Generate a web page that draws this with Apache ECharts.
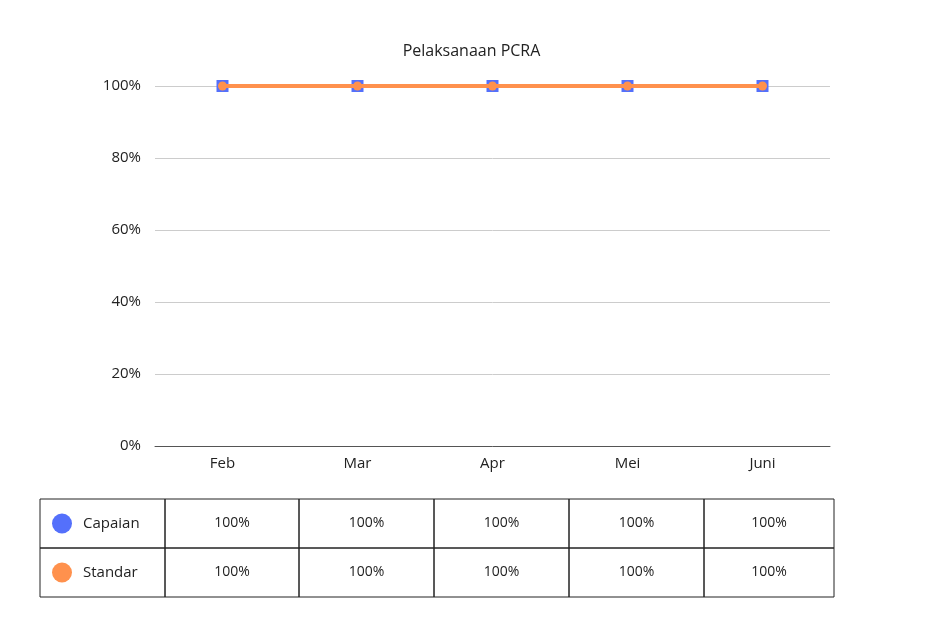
<!DOCTYPE html>
<html>
<head>
<meta charset="utf-8">
<script src="https://cdn.jsdelivr.net/npm/echarts@6/dist/echarts.min.js"></script>
<style>html,body{margin:0;background:#fff}#c{width:943px;height:626px}</style>
</head>
<body>
<div id="c"></div>
<script>
const bulan = ['Feb', 'Mar', 'Apr', 'Mei', 'Juni'];
const capaian = [100, 100, 100, 100, 100];
const standar = [100, 100, 100, 100, 100];
const namaSeri = ['Capaian', 'Standar'];
const warna = ['#5470fb', '#ff914d'];

const chart = echarts.init(document.getElementById('c'));
const font = '"Open Sans", sans-serif';

// tabel data di bawah grafik
const kolomX = [40, 165, 299, 434, 569, 704, 834];
const barisY = [499, 548, 597];
const tabel = [];
[capaian, standar].forEach((vals, r) => {
  const y0 = barisY[r], y1 = barisY[r + 1], cy = (y0 + y1) / 2;
  for (let c = 0; c < kolomX.length - 1; c++) {
    tabel.push({ type: 'rect', shape: { x: kolomX[c], y: y0, width: kolomX[c + 1] - kolomX[c], height: y1 - y0 },
      style: { fill: 'none', stroke: '#222', lineWidth: 1 } });
  }
  tabel.push({ type: 'circle', shape: { cx: 62, cy: cy, r: 10 }, style: { fill: warna[r] } });
  tabel.push({ type: 'text', x: 83, y: cy, style: { text: namaSeri[r], font: '15px ' + font, fill: '#222', verticalAlign: 'middle' } });
  vals.forEach((v, i) => {
    tabel.push({ type: 'text', x: (kolomX[i + 1] + kolomX[i + 2]) / 2, y: cy,
      style: { text: v + '%', font: '14px ' + font, fill: '#222', align: 'center', verticalAlign: 'middle' } });
  });
});

chart.setOption({
  textStyle: { fontFamily: font },
  title: { text: 'Pelaksanaan PCRA', left: 'center', top: 38,
    textStyle: { fontSize: 16, fontWeight: 'normal', color: '#222', fontFamily: font } },
  grid: { left: 155, right: 113, top: 86, bottom: 180 },
  xAxis: { type: 'category', data: bulan,
    axisLine: { lineStyle: { color: '#555' } }, axisTick: { show: false },
    axisLabel: { fontSize: 15, color: '#222', margin: 10 } },
  yAxis: { type: 'value', min: 0, max: 100, interval: 20,
    axisLabel: { formatter: '{value}%', fontSize: 15, color: '#222', margin: 14 },
    splitLine: { lineStyle: { color: '#ccc' } } },
  series: [
    { name: namaSeri[0], type: 'line', data: capaian, symbol: 'rect', symbolSize: 12,
      itemStyle: { color: warna[0] }, lineStyle: { width: 4, color: warna[0] }, z: 2 },
    { name: namaSeri[1], type: 'line', data: standar, symbol: 'circle', symbolSize: 9,
      itemStyle: { color: warna[1] }, lineStyle: { width: 4, color: warna[1] }, z: 3 }
  ],
  graphic: tabel
});
</script>
</body>
</html>
